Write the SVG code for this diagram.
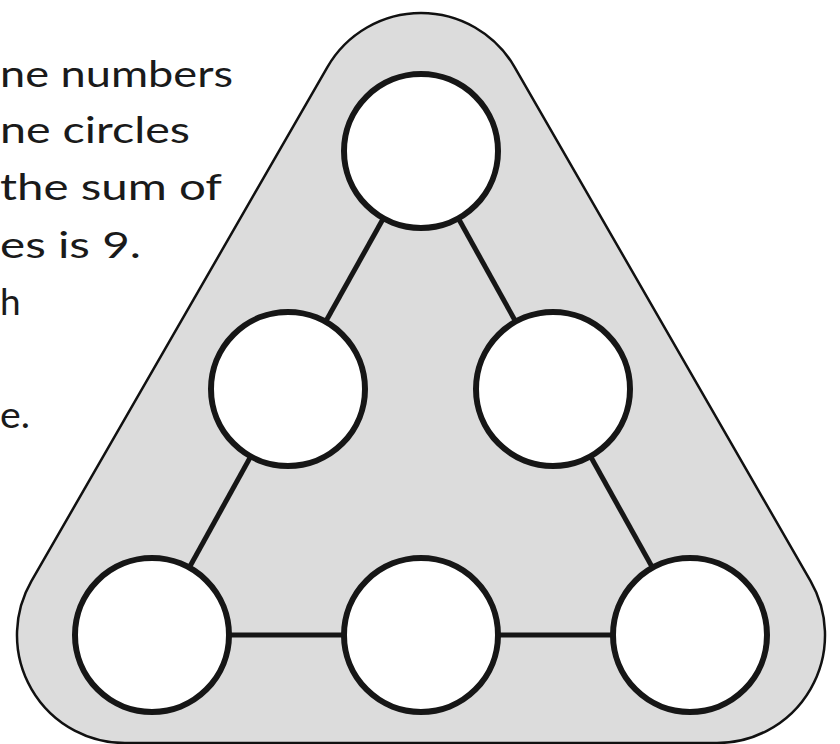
<svg xmlns="http://www.w3.org/2000/svg" width="840" height="744" viewBox="0 0 840 744">
  <style>
    .txt { font-family: Lato, "DejaVu Sans", sans-serif; font-size: 37px; fill: #1a1a1a; }
    .node { fill: #ffffff; stroke: #161616; stroke-width: 6; }
    .edge { stroke: #161616; stroke-width: 5; fill: none; }
  </style>
  <rect width="840" height="744" fill="#ffffff"/>
  <g id="text">
    <text class="txt" x="0" y="87" textLength="233" lengthAdjust="spacingAndGlyphs">ne numbers</text>
    <text class="txt" x="0" y="143" textLength="190" lengthAdjust="spacingAndGlyphs">ne circles</text>
    <text class="txt" x="0" y="200" textLength="222" lengthAdjust="spacingAndGlyphs">the sum of</text>
    <text class="txt" x="0" y="258" textLength="141" lengthAdjust="spacingAndGlyphs">es is 9.</text>
    <text class="txt" x="0" y="315">h</text>
    <text class="txt" x="0" y="428" textLength="30" lengthAdjust="spacingAndGlyphs">e.</text>
  </g>
  <g id="board">
    <path d="M 125 743 A 108 108 0 0 1 31.4 581.1 L 327.4 67.1 A 108 108 0 0 1 514.6 67.1 L 810.6 581.1 A 108 108 0 0 1 717 743 Z" fill="#dcdcdc" stroke="#111111" stroke-width="2.5"/>
  </g>
  <g id="connectors">
    <line class="edge" x1="421" y1="151" x2="288" y2="389"/>
    <line class="edge" x1="421" y1="151" x2="553" y2="389"/>
    <line class="edge" x1="288" y1="389" x2="152" y2="635"/>
    <line class="edge" x1="553" y1="389" x2="690" y2="635"/>
    <line class="edge" x1="152" y1="635" x2="421" y2="635"/>
    <line class="edge" x1="421" y1="635" x2="690" y2="635"/>
  </g>
  <g id="node-top"><circle class="node" cx="421" cy="151" r="77"/></g>
  <g id="node-mid-left"><circle class="node" cx="288" cy="389" r="77"/></g>
  <g id="node-mid-right"><circle class="node" cx="553" cy="389" r="77"/></g>
  <g id="node-bottom-left"><circle class="node" cx="152" cy="635" r="77"/></g>
  <g id="node-bottom-middle"><circle class="node" cx="421" cy="635" r="77"/></g>
  <g id="node-bottom-right"><circle class="node" cx="690" cy="635" r="77"/></g>
</svg>
